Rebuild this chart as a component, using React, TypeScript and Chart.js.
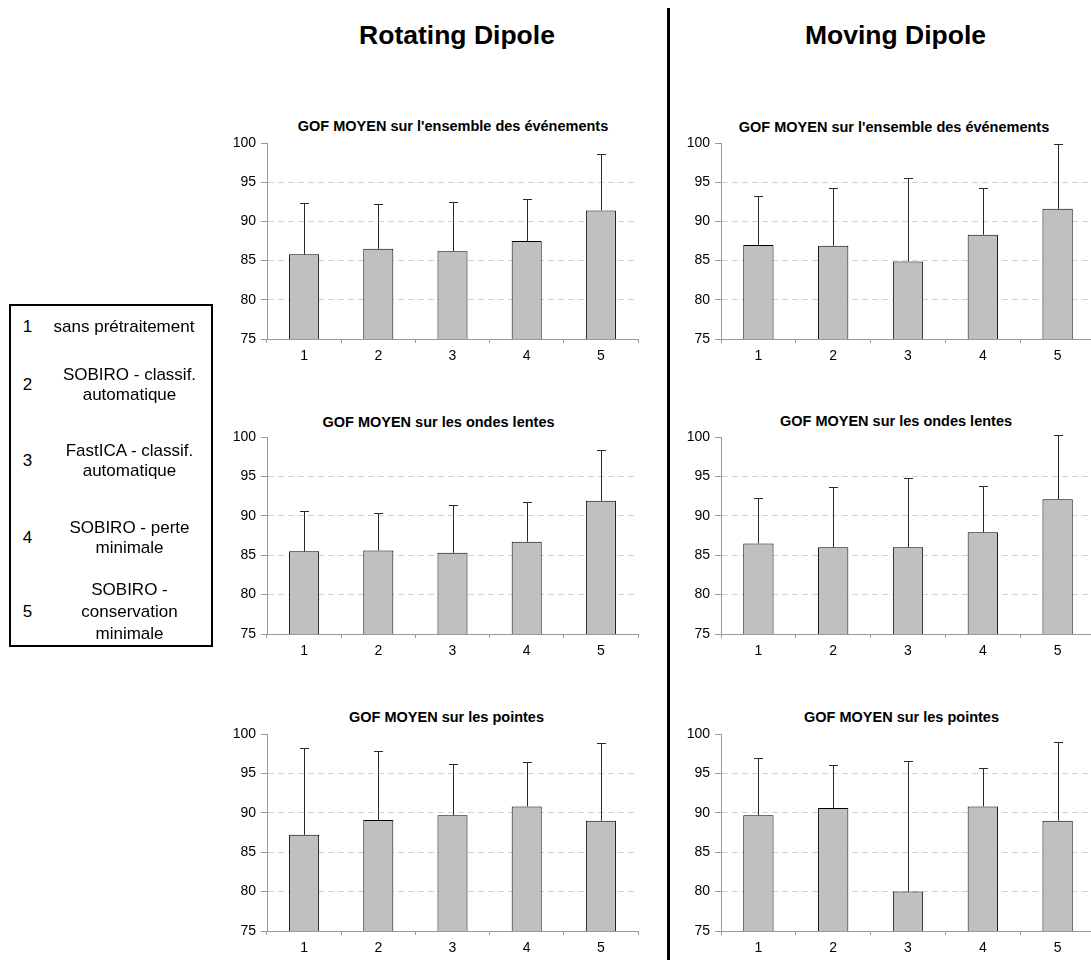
import React, { useEffect, useRef } from "react";
import { Chart, registerables } from "chart.js";

Chart.register(...registerables);

// ---------- data ----------
const categories = ["1", "2", "3", "4", "5"];
const yMin = 75;
const yMax = 100;
const yStep = 5;

const rotEnsembleMeans = [85.8, 86.5, 86.2, 87.5, 91.4];
const rotEnsembleErr = [6.5, 5.7, 6.3, 5.3, 7.2];
const movEnsembleMeans = [87.0, 86.9, 84.9, 88.3, 91.6];
const movEnsembleErr = [6.3, 7.4, 10.6, 5.9, 8.3];

const rotOndesMeans = [85.5, 85.6, 85.3, 86.7, 91.9];
const rotOndesErr = [5.1, 4.8, 6.1, 5.1, 6.5];
const movOndesMeans = [86.5, 86.0, 86.0, 87.9, 92.1];
const movOndesErr = [5.8, 7.7, 8.8, 5.9, 8.1];

const rotPointesMeans = [87.2, 89.1, 89.7, 90.8, 89.0];
const rotPointesErr = [11.0, 8.7, 6.5, 5.6, 9.9];
const movPointesMeans = [89.7, 90.6, 80.0, 90.8, 89.0];
const movPointesErr = [7.2, 5.5, 16.6, 4.9, 10.0];

const titleEnsemble = "GOF MOYEN sur l'ensemble des événements";
const titleOndes = "GOF MOYEN sur les ondes lentes";
const titlePointes = "GOF MOYEN sur les pointes";

const headerLeft = "Rotating Dipole";
const headerRight = "Moving Dipole";

const legendNumbers = ["1", "2", "3", "4", "5"];
const legendTexts = [
  ["sans prétraitement"],
  ["SOBIRO - classif.", "automatique"],
  ["FastICA - classif.", "automatique"],
  ["SOBIRO - perte", "minimale"],
  ["SOBIRO -", "conservation", "minimale"],
];

const FONT = '"Liberation Sans", Arial, Helvetica, sans-serif';

// ---------- error bar plugin ----------
const errorBarPlugin = {
  id: "errorBarsPlus",
  afterDatasetsDraw(chart: any) {
    const ctx = chart.ctx;
    const yScale = chart.scales.y;
    chart.data.datasets.forEach((ds: any, di: number) => {
      const meta = chart.getDatasetMeta(di);
      const errs: number[] = ds.errorPlus || [];
      meta.data.forEach((bar: any, i: number) => {
        const v = ds.data[i];
        const e = errs[i];
        if (e == null) return;
        const x = Math.round(bar.x) + 0.5;
        const yTop = Math.round(yScale.getPixelForValue(v + e)) + 0.5;
        const yBase = yScale.getPixelForValue(v);
        ctx.save();
        ctx.strokeStyle = "#2a2a2a";
        ctx.lineWidth = 1;
        ctx.beginPath();
        ctx.moveTo(x, yBase);
        ctx.lineTo(x, yTop);
        ctx.moveTo(x - 4.5, yTop);
        ctx.lineTo(x + 4.5, yTop);
        ctx.stroke();
        ctx.restore();
      });
    });
  },
};

type PanelProps = {
  left: number;
  top: number;
  width: number;
  height: number;
  means: number[];
  errs: number[];
};

function Panel({ left, top, width, height, means, errs }: PanelProps) {
  const ref = useRef<HTMLCanvasElement>(null);
  useEffect(() => {
    if (!ref.current) return;
    const chart = new Chart(ref.current, {
      type: "bar",
      data: {
        labels: categories,
        datasets: [
          {
            data: means,
            errorPlus: errs,
            backgroundColor: "#c0c0c0",
            borderColor: "#000",
            borderWidth: 1,
            barPercentage: 0.405,
            categoryPercentage: 1,
          } as any,
        ],
      },
      options: {
        responsive: false,
        animation: false,
        devicePixelRatio: 1,
        layout: { padding: { top: 14, left: 7, right: 4, bottom: 0 } },
        plugins: {
          legend: { display: false },
          tooltip: { enabled: false },
          title: { display: false },
        },
        scales: {
          x: {
            grid: {
              offset: true,
              drawOnChartArea: false,
              drawTicks: true,
              tickLength: 4,
              color: "#999",
              tickColor: "#999",
            },
            border: { color: "#999", width: 1 },
            ticks: {
              color: "#000",
              padding: 5,
              font: { family: FONT, size: 14 },
            },
            afterFit: (s: any) => {
              s.height = 26;
            },
          },
          y: {
            min: yMin,
            max: yMax,
            ticks: {
              stepSize: yStep,
              color: "#000",
              padding: 5,
              font: { family: FONT, size: 14 },
            },
            grid: {
              color: (c: any) =>
                c.tick && (c.tick.value === yMin || c.tick.value === yMax)
                  ? "rgba(0,0,0,0)"
                  : "#d4d4d4",
              tickColor: "#999",
              tickLength: 6,
              tickBorderDash: [],
            },
            border: { color: "#999", width: 1, dash: [6, 4] },
            afterFit: (s: any) => {
              s.width = 40;
            },
          },
        },
      } as any,
      plugins: [errorBarPlugin],
    });
    return () => chart.destroy();
  }, []);
  return (
    <canvas
      ref={ref}
      width={width}
      height={height}
      style={{ position: "absolute", left, top, width, height }}
    />
  );
}

function Title({ text, cx, cy }: { text: string; cx: number; cy: number }) {
  return (
    <div
      style={{
        position: "absolute",
        left: cx - 250,
        top: cy - 10,
        width: 500,
        height: 20,
        lineHeight: "20px",
        textAlign: "center",
        fontFamily: FONT,
        fontWeight: "bold",
        fontSize: 14.5,
        color: "#000",
        whiteSpace: "nowrap",
      }}
    >
      {text}
    </div>
  );
}

function Line({ text, cx, cy, size, bold }: { text: string; cx: number; cy: number; size: number; bold?: boolean }) {
  return (
    <div
      style={{
        position: "absolute",
        left: cx - 150,
        top: cy - 15,
        width: 300,
        height: 30,
        lineHeight: "30px",
        textAlign: "center",
        fontFamily: FONT,
        fontWeight: bold ? "bold" : "normal",
        fontSize: size,
        color: "#000",
        whiteSpace: "nowrap",
      }}
    >
      {text}
    </div>
  );
}

const legendRowLines = [[326.7], [375, 395], [451, 471], [527.5, 547.5], [590, 612, 634]];
const legendNumberY = [326.7, 385, 461, 537.5, 612];

export default function App() {
  const L = { left: 220, width: 422 };
  const R = { left: 674, width: 425 };
  const rows = [
    { top: 129, height: 236 },
    { top: 423, height: 237 },
    { top: 720, height: 237 },
  ];
  return (
    <div
      style={{
        position: "absolute",
        left: 0,
        top: 0,
        width: 1091,
        height: 960,
        overflow: "hidden",
        background: "#fff",
      }}
    >
      <Line text={headerLeft} cx={457} cy={35} size={26.5} bold />
      <Line text={headerRight} cx={895.5} cy={34.5} size={26.5} bold />
      <div
        style={{
          position: "absolute",
          left: 667,
          top: 8,
          width: 3,
          height: 960,
          background: "#000",
        }}
      />

      <Title text={titleEnsemble} cx={453} cy={126} />
      <Title text={titleEnsemble} cx={894} cy={127} />
      <Title text={titleOndes} cx={438.5} cy={422} />
      <Title text={titleOndes} cx={896} cy={420.5} />
      <Title text={titlePointes} cx={446.5} cy={717} />
      <Title text={titlePointes} cx={901.5} cy={717} />

      <Panel {...L} {...rows[0]} means={rotEnsembleMeans} errs={rotEnsembleErr} />
      <Panel {...R} {...rows[0]} means={movEnsembleMeans} errs={movEnsembleErr} />
      <Panel {...L} {...rows[1]} means={rotOndesMeans} errs={rotOndesErr} />
      <Panel {...R} {...rows[1]} means={movOndesMeans} errs={movOndesErr} />
      <Panel {...L} {...rows[2]} means={rotPointesMeans} errs={rotPointesErr} />
      <Panel {...R} {...rows[2]} means={movPointesMeans} errs={movPointesErr} />

      <div
        style={{
          position: "absolute",
          left: 9,
          top: 304,
          width: 204,
          height: 343,
          border: "2px solid #000",
          boxSizing: "border-box",
        }}
      />
      {legendNumbers.map((n, i) => (
        <Line key={"n" + i} text={n} cx={27.5} cy={legendNumberY[i]} size={17} />
      ))}
      {legendTexts.map((lines, i) =>
        lines.map((t, j) => (
          <Line
            key={"t" + i + "_" + j}
            text={t}
            cx={i === 0 ? 124 : 129.5}
            cy={legendRowLines[i][j]}
            size={17}
          />
        ))
      )}
    </div>
  );
}
